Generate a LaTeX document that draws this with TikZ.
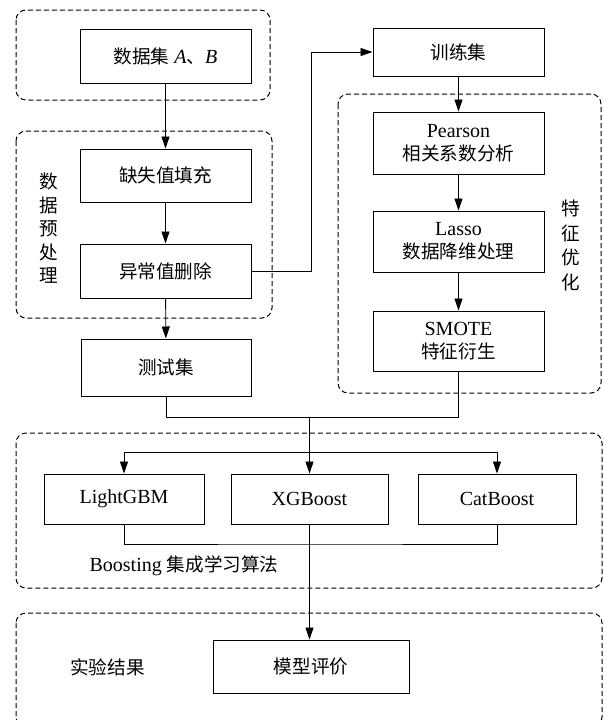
\documentclass[tikz,border=0pt]{standalone}
\usepackage{fontspec}
\setmainfont{Liberation Serif}
\newfontfamily\cjk{Noto Sans CJK SC}[Scale=0.93]
\usetikzlibrary{arrows.meta}
\newcommand{\zh}[1]{{\cjk #1}}
\begin{document}
\begin{tikzpicture}[x=1pt,y=-1pt,
  every node/.style={font=\fontsize{20}{24}\selectfont},
  boxnode/.style={draw,line width=1pt,inner sep=0pt,align=center,minimum width=171pt},
  grp/.style={draw,black,line width=1pt,dash pattern=on 5pt off 3pt,rounded corners=10pt},
  conn/.style={line width=0.9pt},
  arr/.style={conn,-{Triangle[length=12pt,width=8pt]}},
  lbl/.style={inner sep=0pt,align=center}]
\useasboundingbox (0,0) rectangle (604,720);
% groups
\draw[grp] (16,10) rectangle (270,100);
\draw[grp] (16,131) rectangle (272,318);
\draw[grp] (338,94) rectangle (601,393);
\draw[grp] (16,433) rectangle (602,588);
\draw[grp] (16,613) rectangle (602,727);
% nodes
\node[boxnode,minimum height=54pt] (ab) at (165.5,56) {\zh{数据集} \textit{A}\zh{、}\textit{B}};
\node[boxnode,minimum height=53pt] (fill) at (165.5,175.5) {\zh{缺失值填充}};
\node[boxnode,minimum height=54pt] (outl) at (165.5,271) {\zh{异常值删除}};
\node[boxnode,minimum width=170pt,minimum height=57pt] (test) at (166,367.5) {\zh{测试集}};
\node[boxnode,minimum height=48pt] (train) at (458.5,52) {\zh{训练集}};
\node[boxnode,minimum height=62pt] (pearson) at (458.5,143) {Pearson\\[-1pt]\zh{相关系数分析}};
\node[boxnode,minimum height=61pt] (lasso) at (458.5,241.5) {Lasso\\[-1pt]\zh{数据降维处理}};
\node[boxnode,minimum height=60pt] (smote) at (458.5,341) {SMOTE\\[-1pt]\zh{特征衍生}};
\node[boxnode,minimum width=160pt,minimum height=50pt] (lgbm) at (124,499) {LightGBM};
\node[boxnode,minimum width=157pt,minimum height=50pt] (xgb) at (309.5,499) {XGBoost};
\node[boxnode,minimum width=158pt,minimum height=50pt] (cat) at (497,499) {CatBoost};
\node[boxnode,minimum width=196pt,minimum height=53pt] (eval) at (311,666.5) {\zh{模型评价}};
% labels
\node[lbl] (pre) at (49,228.5) {\zh{数}\\[-0.5pt]\zh{据}\\[-0.5pt]\zh{预}\\[-0.5pt]\zh{处}\\[-0.5pt]\zh{理}};
\node[lbl] (feat) at (571,245.5) {\zh{特}\\[0.5pt]\zh{征}\\[0.5pt]\zh{优}\\[0.5pt]\zh{化}};
\node[lbl] (boost) at (184,566) {Boosting \zh{集成学习算法}};
\node[lbl] (res) at (107.5,667) {\zh{实验结果}};
% connectors
\draw[arr] (ab) -- (fill);
\draw[arr] (fill) -- (outl);
\draw[arr] (outl) -- (test);
\coordinate (k1) at (311,271);
\draw[arr] (outl.east) -- (k1) |- (train.west);
\draw[arr] (train) -- (pearson);
\draw[arr] (pearson) -- (lasso);
\draw[arr] (lasso) -- (smote);
\coordinate (m) at (309.5,417);
\coordinate (d) at (309.5,452);
\coordinate (bm) at (309.5,544);
\draw[conn] (test.south) |- (m);
\draw[conn] (smote.south) |- (m);
\draw[arr] (m) -- (xgb.north);
\draw[arr] (d) -| (lgbm.north);
\draw[arr] (d) -| (cat.north);
\draw[conn] (lgbm.south) |- (bm) -| (cat.south);
\draw[arr] (xgb.south) -- (xgb.south |- eval.north);
\end{tikzpicture}
\end{document}
